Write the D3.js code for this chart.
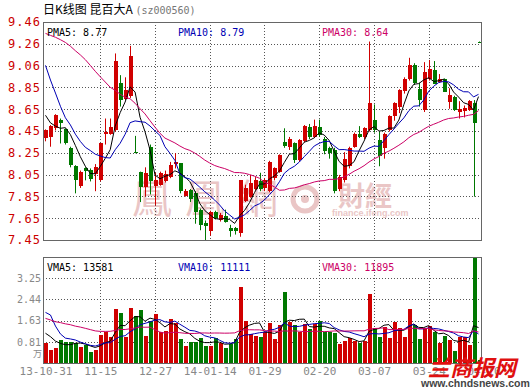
<!DOCTYPE html>
<html>
<head>
<meta charset="utf-8">
<script src="https://cdn.jsdelivr.net/npm/d3@7/dist/d3.min.js"></script>
<style>
body { margin: 0; background: #fff; }
</style>
</head>
<body>
<svg id="chart" width="530" height="391"></svg>
<script>
// daily candles, 88 trading days (oldest first)
var opens  = [8.39,8.40,8.48,8.56,8.47,8.30,8.13,7.95,8.11,8.10,8.06,8.00,8.43,8.43,8.46,8.90,8.75,8.78,8.26,8.08,
              7.94,8.31,7.95,7.96,7.99,8.03,8.15,8.16,7.86,7.91,7.88,7.73,7.61,7.53,7.71,7.63,7.67,7.56,7.56,7.51,
              7.81,7.85,7.92,7.99,7.93,7.90,8.02,8.08,8.35,8.31,8.34,8.19,8.36,8.49,8.40,8.49,8.38,8.30,8.28,7.92,
              8.00,8.13,8.31,8.43,8.40,8.46,8.56,8.37,8.30,8.46,8.59,8.68,8.82,8.93,9.06,8.84,8.65,8.93,9.02,8.91,
              8.93,8.72,8.77,8.63,8.64,8.65,8.71,9.28];
var highs  = [8.47,8.51,8.61,8.57,8.48,8.31,8.14,8.09,8.12,8.11,8.15,8.34,8.57,8.57,9.17,8.97,8.95,9.24,8.41,8.08,
              8.12,8.33,8.07,8.08,8.09,8.17,8.25,8.16,7.92,7.92,7.90,7.74,7.63,7.72,7.72,7.70,7.73,7.59,7.57,8.00,
              7.96,8.05,8.03,8.07,8.02,8.18,8.12,8.24,8.48,8.40,8.35,8.38,8.51,8.52,8.56,8.56,8.40,8.31,8.30,8.05,
              8.26,8.31,8.44,8.50,8.49,9.28,8.70,8.45,8.44,8.60,8.72,8.84,8.95,9.13,9.08,8.90,9.09,9.11,9.10,8.98,
              8.94,8.85,8.78,8.73,8.69,8.74,8.74,9.28];
var lows   = [8.36,8.31,8.46,8.34,8.33,8.12,7.88,7.93,8.00,7.99,7.90,7.99,8.33,8.42,8.45,8.68,8.74,8.76,8.25,7.80,
              7.85,7.87,7.77,7.95,7.98,8.02,8.11,7.88,7.85,7.80,7.60,7.54,7.45,7.49,7.64,7.62,7.61,7.48,7.50,7.48,
              7.80,7.84,7.91,7.90,7.90,7.89,8.00,8.07,8.30,8.28,8.16,8.17,8.35,8.38,8.39,8.40,8.24,8.20,7.88,7.90,
              7.98,8.11,8.30,8.39,8.38,8.45,8.44,8.13,8.20,8.45,8.55,8.62,8.80,8.92,8.88,8.68,8.63,8.92,8.90,8.90,
              8.82,8.66,8.64,8.57,8.58,8.64,7.85,9.27];
var closes = [8.46,8.50,8.60,8.53,8.34,8.14,8.00,8.08,8.09,8.01,8.12,8.34,8.45,8.49,9.10,8.74,8.83,9.15,8.25,7.94,
              8.07,7.99,8.00,8.07,8.06,8.14,8.17,7.90,7.90,7.83,7.71,7.59,7.58,7.71,7.65,7.68,7.62,7.535,7.53,8.00,
              7.93,7.98,8.00,7.92,8.00,8.17,8.11,8.23,8.32,8.38,8.19,8.37,8.50,8.40,8.50,8.42,8.27,8.25,7.90,8.03,
              8.20,8.30,8.43,8.40,8.48,8.71,8.46,8.22,8.43,8.59,8.71,8.83,8.93,9.06,8.90,8.74,9.00,9.03,8.89,8.93,
              8.81,8.79,8.65,8.66,8.67,8.73,8.53,9.27];
// volume, unit 万手
var volumes = [0.78,0.50,0.56,0.88,0.79,0.79,0.75,0.61,0.69,0.43,0.50,1.07,1.17,1.01,2.06,1.90,1.01,2.12,1.80,2.03,
               1.04,1.61,1.87,1.17,1.22,1.68,1.52,0.92,0.66,0.81,0.81,0.97,0.66,0.66,0.94,0.75,0.59,0.71,0.92,2.92,
               1.61,1.10,1.04,1.01,1.17,1.52,0.92,1.45,2.73,1.58,1.45,1.17,1.48,1.30,1.48,1.61,1.17,1.17,1.16,0.71,
               0.84,0.97,0.84,0.75,0.84,2.65,1.36,1.01,1.38,0.96,1.56,1.36,1.01,2.08,1.46,0.91,1.33,1.40,1.18,0.78,
               1.02,0.88,0.46,1.00,1.00,0.68,4.01,0.10];
// the 29 sessions before the window, needed for the moving averages
var histCloses  = [9.05,9.12,9.20,9.10,9.18,9.25,9.24,9.40,9.60,9.75,9.85,9.90,9.95,9.95,9.80,9.70,9.55,9.50,9.45,9.51,
                   9.85,9.80,9.75,9.40,8.80,8.85,8.75,8.63,8.31];
var histVolumes = [2.3,2.6,1.9,2.2,1.8,2.4,1.7,2.1,1.9,2.0,1.6,1.2,0.9,1.1,0.8,1.0,1.3,0.9,1.0,1.2,
                   1.5,4.8,3.9,2.4,1.1,1.15,1.41,1.33,1.03];

var dateLabels  = ["13-10-31","11-15","12-27","14-01-14","01-29","02-20","03-07","03-24","04-10"];
var priceLabels = ["7.45","7.65","7.85","8.05","8.25","8.45","8.65","8.85","9.06","9.26","9.46"];
var volLabels   = ["0.81","1.63","2.44","3.25"];
var priceLegend = ["8.77","8.79","8.64"];
var volLegend   = ["13581","11111","11895"];
var priceMin = 7.45, priceMax = 9.46, volMax = 4.0625;

var svg = d3.select("#chart");
var left = 43, right = 481;
var mainTop = 22, mainBottom = 240, volTop = 257, volBottom = 363;
var red = "#d00000", green = "#007800";
var gridColor = "#555";
var mono = "'DejaVu Sans Mono', monospace";

var n = closes.length;
var x = d3.scaleLinear().domain([-0.5, n - 0.5]).range([left, right]);
var y = d3.scaleLinear().domain([priceMin, priceMax]).range([mainBottom, mainTop]);
var yv = d3.scaleLinear().domain([0, volMax]).range([volBottom, volTop]);

var priceTicks = priceLabels.map(function(d, i) { return priceMin + i * (priceMax - priceMin) / 10; });
var volTicks = volLabels.map(function(d, i) { return (i + 1) * volMax / 5; });
var gridSlots = d3.range(11, n, 11);

// watermark (ifeng finance)
var wmColor = "#eac6c6";
var wm = svg.append("g").attr("fill", wmColor);
wm.append("text").attr("x", 132).attr("y", 213)
  .style("font-family", "'Noto Sans CJK TC'").style("font-size", "40px").style("letter-spacing", "13px")
  .text("鳳凰網");
wm.append("circle").attr("cx", 305).attr("cy", 199).attr("r", 12)
  .attr("fill", "none").attr("stroke", wmColor).attr("stroke-width", 5);
wm.append("circle").attr("cx", 305).attr("cy", 199).attr("r", 4);
wm.append("text").attr("x", 338).attr("y", 206)
  .style("font-family", "'Noto Sans CJK TC'").style("font-size", "27px").style("font-weight", "bold")
  .text("財經");
wm.append("text").attr("x", 332).attr("y", 216)
  .style("font-family", "Arial, 'Liberation Sans'").style("font-size", "9px").style("font-weight", "bold")
  .text("finance.ifeng.com");

// grids
function hGrid(scale, ticks) {
  svg.append("g").selectAll("line").data(ticks).enter().append("line")
    .attr("x1", left).attr("x2", right)
    .attr("y1", function(d) { return Math.round(scale(d)) + 0.5; })
    .attr("y2", function(d) { return Math.round(scale(d)) + 0.5; })
    .attr("stroke", gridColor).attr("stroke-dasharray", "1,2");
}
hGrid(y, priceTicks.slice(1, -1));
hGrid(yv, volTicks);

[[mainTop, mainBottom], [volTop, volBottom]].forEach(function(p) {
  svg.append("g").selectAll("line").data(gridSlots).enter().append("line")
    .attr("x1", function(d) { return Math.round(x(d)) + 0.5; })
    .attr("x2", function(d) { return Math.round(x(d)) + 0.5; })
    .attr("y1", p[0]).attr("y2", p[1])
    .attr("stroke", gridColor).attr("stroke-dasharray", "1,2");
});

// candles
var isUp = function(i) { return closes[i] >= opens[i]; };
var candles = svg.append("g").selectAll("g").data(d3.range(n)).enter().append("g");
candles.append("line")
  .attr("x1", function(i) { return Math.round(x(i)) + 0.5; })
  .attr("x2", function(i) { return Math.round(x(i)) + 0.5; })
  .attr("y1", function(i) { return y(highs[i]); })
  .attr("y2", function(i) { return y(lows[i]); })
  .attr("stroke", function(i) { return isUp(i) ? red : green; });
candles.append("rect")
  .attr("x", function(i) { return Math.round(x(i)) - 1.5; })
  .attr("width", 4)
  .attr("y", function(i) { return Math.round(y(Math.max(opens[i], closes[i]))); })
  .attr("height", function(i) {
    return Math.max(1, Math.round(y(Math.min(opens[i], closes[i]))) - Math.round(y(Math.max(opens[i], closes[i]))));
  })
  .attr("fill", function(i) { return isUp(i) ? red : green; })
  .attr("shape-rendering", "crispEdges");

// volume bars
svg.append("g").selectAll("rect").data(d3.range(n)).enter().append("rect")
  .attr("x", function(i) { return Math.round(x(i)) - 1.5; })
  .attr("width", 4)
  .attr("y", function(i) { return Math.round(yv(volumes[i])); })
  .attr("height", function(i) { return volBottom - Math.round(yv(volumes[i])); })
  .attr("fill", function(i) { return isUp(i) ? red : green; })
  .attr("shape-rendering", "crispEdges");

// moving averages
function movingAvg(hist, vals, len) {
  var all = hist.concat(vals);
  return vals.map(function(v, i) {
    var end = hist.length + i;
    return d3.mean(all.slice(end - len + 1, end + 1));
  });
}
var maLens = [5, 10, 30];
var maColors = ["#000", "#0000b4", "#cc0066"];
maLens.forEach(function(len, k) {
  var pm = movingAvg(histCloses, closes, len);
  var vm = movingAvg(histVolumes, volumes, len);
  svg.append("path").datum(pm)
    .attr("d", d3.line().x(function(d, i) { return x(i); }).y(function(d) { return y(d); }))
    .attr("fill", "none").attr("stroke", maColors[k]).attr("stroke-width", 1);
  svg.append("path").datum(vm)
    .attr("d", d3.line().x(function(d, i) { return x(i); }).y(function(d) { return yv(d); }))
    .attr("fill", "none").attr("stroke", maColors[k]).attr("stroke-width", 1);
});

// frames
svg.append("rect").attr("x", left + 0.5).attr("y", mainTop + 0.5)
  .attr("width", right - left).attr("height", mainBottom - mainTop)
  .attr("fill", "none").attr("stroke", "#666");
svg.append("rect").attr("x", left + 0.5).attr("y", volTop + 0.5)
  .attr("width", right - left).attr("height", volBottom - volTop)
  .attr("fill", "none").attr("stroke", "#666");

// axes
var priceAxis = svg.append("g").attr("transform", "translate(" + (left - 1) + ",0)")
  .call(d3.axisLeft(y).tickValues(priceTicks).tickSize(0).tickPadding(1)
    .tickFormat(function(d, i) { return priceLabels[i]; }));
priceAxis.select(".domain").remove();
priceAxis.selectAll("text").attr("fill", "#cc0000")
  .style("font-family", mono).style("font-size", "12px").style("letter-spacing", "1px");

var volAxis = svg.append("g").attr("transform", "translate(" + (left - 1) + ",0)")
  .call(d3.axisLeft(yv).tickValues(volTicks).tickSize(0).tickPadding(1)
    .tickFormat(function(d, i) { return volLabels[i]; }));
volAxis.select(".domain").remove();
volAxis.selectAll("text").attr("fill", "#888")
  .style("font-family", mono).style("font-size", "10px");
svg.append("text").attr("x", 33).attr("y", 357).attr("fill", "#888")
  .style("font-family", "'Noto Sans CJK SC'").style("font-size", "9px").text("万");

var dateAxis = svg.append("g").attr("transform", "translate(0," + (volBottom + 1) + ")")
  .call(d3.axisBottom(x).tickValues(d3.range(0, n + 1, 11)).tickSize(0).tickPadding(3)
    .tickFormat(function(d, i) { return dateLabels[i]; }));
dateAxis.select(".domain").remove();
dateAxis.selectAll("text").attr("fill", "#888")
  .style("font-family", mono).style("font-size", "11px");

// title and legends
var title = svg.append("text").attr("x", 43).attr("y", 14).style("font-size", "12px");
title.append("tspan").style("font-family", "'Noto Sans CJK SC'").attr("fill", "#000").text("日K线图 昆百大A ");
title.append("tspan").style("font-family", mono).style("font-size", "10px").attr("fill", "#777").text("(sz000560)");

var legendX = [47, 178, 322];
maLens.forEach(function(len, k) {
  svg.append("text").attr("x", legendX[k]).attr("y", 36).attr("fill", maColors[k])
    .style("font-family", mono).style("font-size", "10px")
    .text("PMA" + len + ": " + priceLegend[k]);
  svg.append("text").attr("x", legendX[k]).attr("y", 271).attr("fill", maColors[k])
    .style("font-family", mono).style("font-size", "10px")
    .text("VMA" + len + ": " + volLegend[k]);
});

// site stamp, bottom right
svg.append("text").attr("x", 428).attr("y", 376).attr("fill", "#e01010")
  .style("font-family", "'Noto Sans CJK SC'").style("font-size", "22px").style("font-weight", "bold")
  .style("font-style", "italic").text("兰商报网");
svg.append("text").attr("x", 421).attr("y", 387).attr("fill", "#444")
  .style("font-family", "Arial, 'Liberation Sans'").style("font-size", "10.5px").style("font-weight", "bold")
  .text("www.chndsnews.com");
</script>
</body>
</html>
